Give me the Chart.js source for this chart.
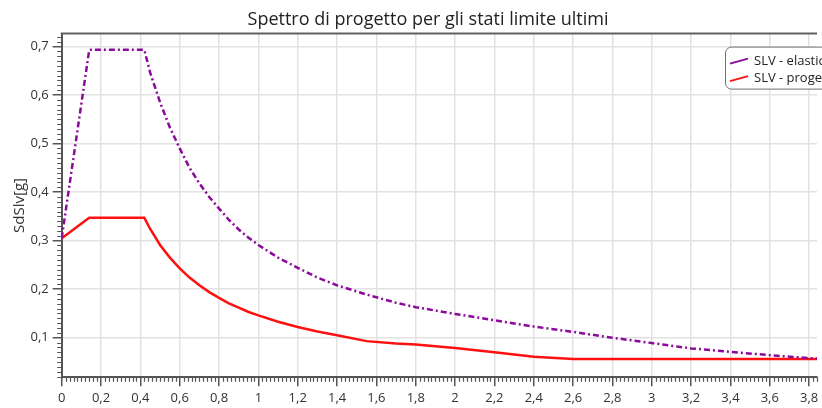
<!DOCTYPE html>
<html>
<head>
<meta charset="utf-8">
<script src="https://cdn.jsdelivr.net/npm/chart.js@4/dist/chart.umd.min.js"></script>
<style>
  html, body { margin: 0; padding: 0; background: #fff; overflow: hidden; }
  #wrap { width: 822px; height: 408px; overflow: hidden; position: relative; }
  canvas { display: block; }
</style>
</head>
<body>
<div id="wrap"><canvas id="c" width="856" height="408" style="width:856px;height:408px"></canvas></div>
<script>
// ---- data ----
const chartTitle = "Spettro di progetto per gli stati limite ultimi";
const yAxisTitle = "SdSlv[g]";
const seriesLabels = ["SLV - elastico", "SLV - progetto"];
const periods = [0, 0.14, 0.42, 0.45, 0.5, 0.55, 0.6, 0.65, 0.7, 0.75, 0.8, 0.85, 0.9, 0.95, 1.0, 1.1, 1.2, 1.3, 1.4, 1.55, 1.7, 1.8, 2.0, 2.2, 2.4, 2.6, 2.8, 3.0, 3.2, 3.4, 3.6, 3.84];
const elasticValues = [0.305, 0.693, 0.693, 0.646, 0.585, 0.533, 0.490, 0.450, 0.418, 0.390, 0.366, 0.343, 0.323, 0.306, 0.291, 0.265, 0.244, 0.224, 0.208, 0.189, 0.172, 0.163, 0.149, 0.136, 0.123, 0.112, 0.100, 0.089, 0.078, 0.071, 0.064, 0.057];
const designValues  = [0.305, 0.347, 0.347, 0.324, 0.291, 0.265, 0.243, 0.224, 0.208, 0.194, 0.182, 0.171, 0.162, 0.153, 0.146, 0.133, 0.122, 0.113, 0.105, 0.093, 0.088, 0.086, 0.079, 0.070, 0.061, 0.056, 0.056, 0.056, 0.056, 0.056, 0.056, 0.056];
const xTickStep = 0.2, xMinorStep = 0.02;
const yTickStep = 0.1, yMinorStep = 0.01;

const FONT = "'Open Sans', 'Noto Sans', sans-serif";
const purple = '#8B0A9B';
const red = '#FF1010';

const toPoints = (vals) => periods.map((t, i) => ({ x: t, y: vals[i] }));
const fmt = (v) => Number(Number(v).toFixed(2)).toString().replace('.', ',');

const framePlugin = {
  id: 'frameAndMinor',
  afterLayout(chart) {
    if (chart.titleBlock) { chart.titleBlock.right = chart.width; chart.titleBlock.width = chart.width - chart.titleBlock.left; }
  },
  afterDraw(chart) {
    const { ctx, chartArea: a, scales } = chart;
    ctx.save();
    ctx.strokeStyle = '#606060';
    ctx.lineWidth = 2;
    ctx.beginPath();
    ctx.moveTo(a.left - 1, a.top);
    ctx.lineTo(a.right, a.top);
    ctx.stroke();
    ctx.strokeStyle = '#555';
    ctx.lineWidth = 1.2;
    ctx.beginPath();
    const xs = scales.x;
    const nx = Math.floor((xs.max - xs.min) / xMinorStep + 1e-6);
    for (let i = 0; i <= nx; i++) {
      if (i % Math.round(xTickStep / xMinorStep) === 0) continue;
      const px = Math.round(xs.getPixelForValue(xs.min + i * xMinorStep)) + 0.5;
      ctx.moveTo(px, a.bottom);
      ctx.lineTo(px, a.bottom + 4.5);
    }
    const ys = scales.y;
    const start = Math.ceil(ys.min / yMinorStep - 1e-6);
    const end = Math.floor(ys.max / yMinorStep + 1e-6);
    for (let k = start; k <= end; k++) {
      if (k % Math.round(yTickStep / yMinorStep) === 0) continue;
      const py = Math.round(ys.getPixelForValue(k * yMinorStep)) + 0.5;
      ctx.moveTo(a.left - 4.5, py);
      ctx.lineTo(a.left, py);
    }
    ctx.stroke();

    const lx = a.right - 92, ly = a.top + 13, lw = 130, lh = 42, r = 6;
    ctx.fillStyle = '#fff';
    ctx.strokeStyle = '#707070';
    ctx.lineWidth = 1;
    ctx.beginPath();
    ctx.roundRect(lx + 0.5, ly + 0.5, lw, lh, r);
    ctx.fill();
    ctx.stroke();
    ctx.font = "13px " + FONT;
    ctx.textBaseline = 'middle';
    ctx.textAlign = 'left';
    chart.data.datasets.forEach((ds, i) => {
      const cy = ly + 14.5 + i * 17.5;
      ctx.strokeStyle = ds.borderColor;
      ctx.lineWidth = 2;
      ctx.setLineDash([]);
      ctx.beginPath();
      ctx.moveTo(lx + 5, cy + 2.5);
      ctx.lineTo(lx + 23, cy - 2.5);
      ctx.stroke();
      ctx.fillStyle = '#222';
      ctx.fillText(ds.label, lx + 29, cy);
    });
    ctx.restore();
  }
};

new Chart(document.getElementById('c'), {
  type: 'line',
  data: {
    datasets: [
      { label: seriesLabels[0], data: toPoints(elasticValues), borderColor: purple, backgroundColor: purple,
        borderWidth: 2.5, borderDash: [6, 3, 2, 3], pointRadius: 0, tension: 0, fill: false },
      { label: seriesLabels[1], data: toPoints(designValues), borderColor: red, backgroundColor: red,
        borderWidth: 2.5, pointRadius: 0, tension: 0, fill: false }
    ]
  },
  options: {
    responsive: false,
    animation: false,
    events: [],
    layout: { padding: { left: 0, right: 39, top: 0, bottom: 0 } },
    plugins: {
      legend: { display: false },
      tooltip: { enabled: false },
      title: { display: true, text: chartTitle, color: '#222',
        font: { family: FONT, size: 18, weight: 'normal' }, padding: { top: 9, bottom: 3 } }
    },
    scales: {
      x: {
        type: 'linear', min: 0, max: 3.84,
        ticks: { stepSize: xTickStep, includeBounds: false, autoSkip: false, maxRotation: 0,
          callback: fmt, color: '#333', font: { family: FONT, size: 13 }, padding: 4 },
        grid: { color: '#e2e2e2', lineWidth: 1.5, tickLength: 9, tickColor: '#555', tickWidth: 1.5 },
        border: { color: '#555', width: 2 },
        afterFit: (s) => { s.height = 30.7; }
      },
      y: {
        type: 'linear', min: 0.0185, max: 0.7265,
        ticks: { stepSize: yTickStep, includeBounds: false, autoSkip: false,
          callback: fmt, color: '#333', font: { family: FONT, size: 13 }, padding: 4 },
        grid: { color: '#e2e2e2', lineWidth: 1.5, tickLength: 9, tickColor: '#555', tickWidth: 1.5 },
        border: { color: '#555', width: 2 },
        title: { display: true, text: yAxisTitle, color: '#333',
          font: { family: FONT, size: 15, weight: 'normal' }, padding: { top: 11, bottom: 0 } },
        afterFit: (s) => { s.width = 61.7; }
      }
    }
  },
  plugins: [framePlugin]
});
</script>
</body>
</html>
